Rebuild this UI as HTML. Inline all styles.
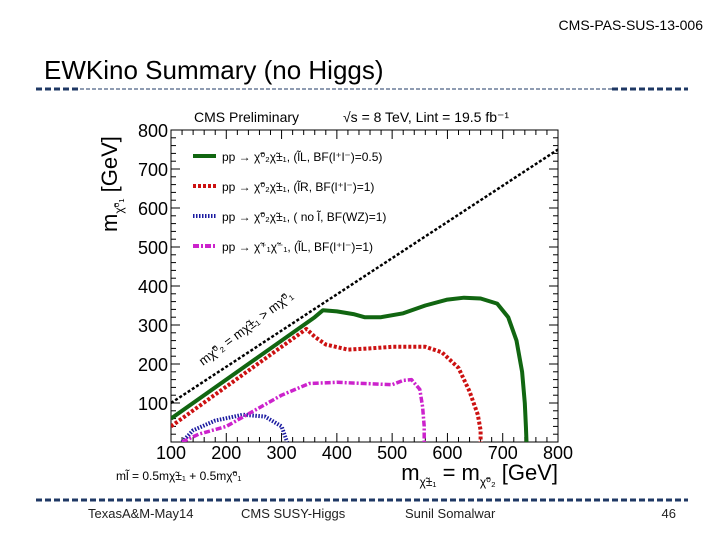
<!DOCTYPE html>
<html><head><meta charset="utf-8"><style>
body{margin:0;width:720px;height:540px;background:#fff;overflow:hidden;font-family:"Liberation Sans",sans-serif}
svg{position:absolute;left:0;top:0}
</style></head><body>
<svg width="720" height="540" font-family="Liberation Sans, sans-serif">
<text x="703" y="30" font-size="14" text-anchor="end">CMS-PAS-SUS-13-006</text>
<text x="44" y="79" font-size="26">EWKino Summary (no Higgs)</text>
<g stroke="#1f3864">
<line x1="36" y1="89" x2="80" y2="89" stroke-width="3" stroke-dasharray="6,3"/>
<line x1="80" y1="89" x2="612" y2="89" stroke-width="1" stroke-dasharray="4,2"/>
<line x1="612" y1="89" x2="688" y2="89" stroke-width="3" stroke-dasharray="6,3"/>
</g>
<line x1="36" y1="500" x2="688" y2="500" stroke="#1f3864" stroke-width="3" stroke-dasharray="6,3"/>
<g font-size="13" fill="#222">
<text x="88" y="518">TexasA&amp;M-May14</text>
<text x="241" y="518">CMS SUSY-Higgs</text>
<text x="405" y="518">Sunil Somalwar</text>
<text x="676" y="518" text-anchor="end">46</text>
</g>
<g id="chart"></g>
</svg>
<script>
const xTicks=[100,200,300,400,500,600,700,800];
const yTicks=[100,200,300,400,500,600,700,800];
const diagX=[100,800];
const diagY=[100,750];
const greenX=[100,360,375,400,430,450,480,520,560,600,630,660,690,710,725,735,740,742,743];
const greenY=[60,320,338,335,328,320,320,330,350,365,370,368,355,320,260,180,100,40,0];
const redX=[100,345,360,380,420,460,500,560,590,620,640,655,660,660];
const redY=[40,290,270,250,237,240,244,244,230,190,130,70,30,0];
const magX=[120,150,200,250,300,350,400,450,500,520,535,550,555,558,558];
const magY=[0,20,40,80,120,150,153,150,147,158,160,135,90,40,0];
const blueX=[120,140,180,230,270,300,310];
const blueY=[0,30,55,70,65,40,0];
const X0=171,X1=558,Y0=442,Y1=130;
const sx=v=>X0+(v-100)/700*(X1-X0);
const sy=v=>Y0-(v)/800*(Y0-Y1);
const NS='http://www.w3.org/2000/svg';
const g=document.getElementById('chart');
function mk(t,a,p){const e=document.createElementNS(NS,t);for(const k in a)e.setAttribute(k,a[k]);(p||g).appendChild(e);return e;}
const clip=mk('clipPath',{id:'pc'});mk('rect',{x:X0,y:Y1,width:X1-X0,height:Y0-Y1},clip);
const frame=mk('rect',{x:X0,y:Y1,width:X1-X0,height:Y0-Y1,fill:'none',stroke:'#000','stroke-width':1});


for(let v=100;v<=800;v+=20){const x=sx(v),L=(v%100===0)?9:5;
mk('line',{x1:x,y1:Y0,x2:x,y2:Y0-L,stroke:'#000'});mk('line',{x1:x,y1:Y1,x2:x,y2:Y1+L,stroke:'#000'});}
for(let v=0;v<=800;v+=20){const y=sy(v),L=(v%100===0)?9:5;
mk('line',{x1:X0,y1:y,x2:X0+L,y2:y,stroke:'#000'});mk('line',{x1:X1,y1:y,x2:X1-L,y2:y,stroke:'#000'});}
xTicks.forEach(v=>{const t=mk('text',{x:sx(v),y:Y0+17,'font-size':18,'text-anchor':'middle'});t.textContent=v;

});
yTicks.forEach(v=>{const t=mk('text',{x:X0-3,y:sy(v)+7,'font-size':18,'text-anchor':'end'});t.textContent=v;

});
function line(xs,ys,col,w,dash,name){const d=xs.map((x,i)=>(i?'L':'M')+sx(x).toFixed(1)+','+sy(ys[i]).toFixed(1)).join('');
const p=mk('path',{d:d,fill:'none',stroke:col,'stroke-width':w,'stroke-dasharray':dash,'clip-path':'url(#pc)','stroke-linejoin':'round'});

}
line(diagX,diagY,'#000',2.5,'3,2','diagonal-line');
line(blueX,blueY,'#1a1aa0',4,'1.5,1.5','blue-contour');
line(magX,magY,'#cc22cc',3.5,'6,2,2,2','magenta-contour');
line(redX,redY,'#cc1111',4,'3,2','red-contour');
line(greenX,greenY,'#116611',4,'','green-contour');
const leg=[['#116611','','(l̃L, BF(l⁺l⁻)=0.5)','χ̃⁰₂χ̃±₁'],['#cc1111','3,2','(l̃R, BF(l⁺l⁻)=1)','χ̃⁰₂χ̃±₁'],['#1a1aa0','1.5,1.5','( no l̃, BF(WZ)=1)','χ̃⁰₂χ̃±₁'],['#cc22cc','6,2,2,2','(l̃L, BF(l⁺l⁻)=1)','χ̃⁺₁χ̃⁻₁']];
leg.forEach((r,i)=>{const y=156+i*30;mk('line',{x1:193,y1:y,x2:216,y2:y,stroke:r[0],'stroke-width':4,'stroke-dasharray':r[1]});
const t=mk('text',{x:222,y:y+5,'font-size':12});t.textContent='pp → '+r[3]+', '+r[2];

});
const h=mk('text',{x:194,y:122,'font-size':14});h.textContent='CMS Preliminary';
const h2=mk('text',{x:343,y:122,'font-size':14});h2.textContent='√s = 8 TeV, Lint = 19.5 fb⁻¹';
const dl=mk('text',{x:0,y:0,'font-size':13,transform:'translate(203,366) rotate(-37)'});dl.textContent='mχ̃⁰₂ = mχ̃±₁ > mχ̃⁰₁';
const yt=mk('text',{x:0,y:0,'font-size':22,transform:'translate(117,232) rotate(-90)'});yt.innerHTML='m<tspan font-size="12" dy="6">χ̃⁰₁</tspan><tspan dy="-6">  [GeV]</tspan>';


const xt=mk('text',{x:558,y:480,'font-size':22,'text-anchor':'end'});xt.innerHTML='m<tspan font-size="12" dy="6">χ̃±₁</tspan><tspan dy="-6"> = m</tspan><tspan font-size="12" dy="6">χ̃⁰₂</tspan><tspan dy="-6">  [GeV]</tspan>';


const nt=mk('text',{x:116,y:480,'font-size':12});nt.textContent='ml̃ = 0.5mχ̃±₁ + 0.5mχ̃⁰₁';


</script>
</body></html>
